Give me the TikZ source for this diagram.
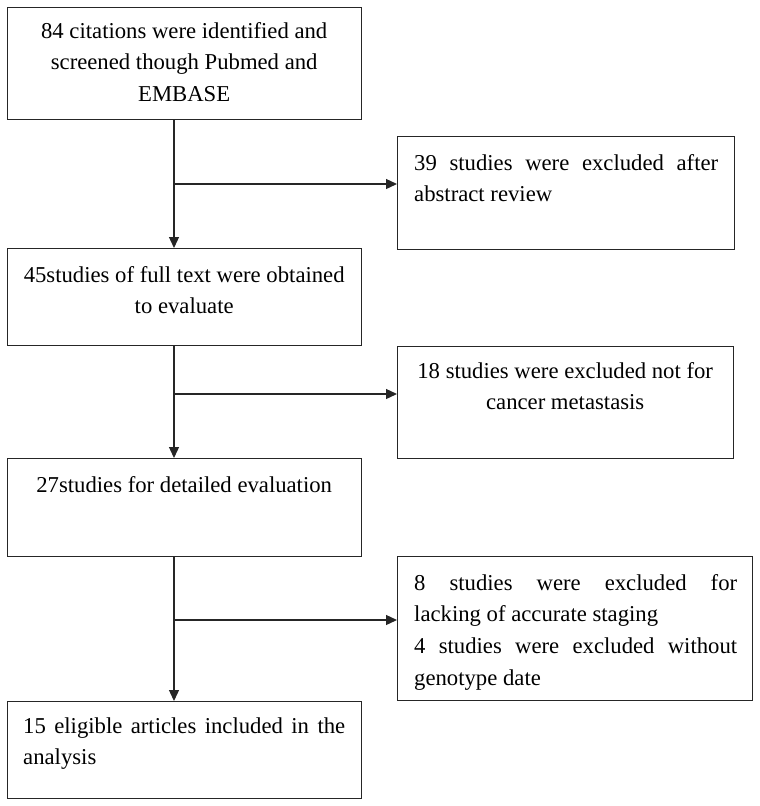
\documentclass[tikz,border=0pt]{standalone}
\usepackage{fontspec}
\setmainfont{Liberation Serif}
\usetikzlibrary{arrows.meta}
\begin{document}
\begin{tikzpicture}[x=1pt,y=-1pt,
  box/.style={draw=black!85, line width=1.3pt, inner sep=0pt, anchor=north west},
  txt/.style={inner sep=0pt, anchor=base west, font=\fontsize{22.7}{31.7}\selectfont},
  arr/.style={draw=black!85, line width=1.3pt, -{Triangle[length=11pt,width=10pt]}}]
\useasboundingbox (0,0) rectangle (760,806);
% boxes
\node[box, minimum width=354pt, minimum height=112pt] (b1) at (7,7) {};
\node[box, minimum width=337pt, minimum height=113pt] (r1) at (397,136) {};
\node[box, minimum width=354pt, minimum height=97pt]  (b2) at (7,248) {};
\node[box, minimum width=336pt, minimum height=112pt] (r2) at (397,346) {};
\node[box, minimum width=354pt, minimum height=98pt]  (b3) at (7,458) {};
\node[box, minimum width=355pt, minimum height=144pt] (r3) at (397,556) {};
\node[box, minimum width=354pt, minimum height=97pt]  (b4) at (7,701) {};
% texts
\node[txt] (t1) at (23,38) {\parbox[t]{322pt}{\centering 84 citations were identified and\\ screened though Pubmed and\\ EMBASE}};
\node[txt] (tr1) at (414,170) {\parbox[t]{304pt}{\makebox[304pt][s]{39 studies were excluded after}\\ abstract review}};
\node[txt] (t2) at (23,282) {\parbox[t]{322pt}{\centering 45studies of full text were obtained\\ to evaluate}};
\node[txt] (tr2) at (404,378) {\parbox[t]{322pt}{\centering 18 studies were excluded not for\\ cancer metastasis}};
\node[txt] (t3) at (23,492) {\parbox[t]{322pt}{\centering 27studies for detailed evaluation}};
\node[txt] (tr3) at (414,590) {\parbox[t]{323pt}{\makebox[323pt][s]{8 studies were excluded for}\\ lacking of accurate staging\\ \makebox[323pt][s]{4 studies were excluded without}\\ genotype date}};
\node[txt] (t4) at (23,733) {\parbox[t]{322pt}{\makebox[322pt][s]{15 eligible articles included in the}\\ analysis}};
% connectors
\coordinate (j1) at (174,184);
\coordinate (j2) at (174,394);
\coordinate (j3) at (174,620);
\draw[arr] (b1.south -| j1) -- (b2.north -| j1);
\draw[arr] (j1) -- (j1 -| r1.west);
\draw[arr] (b2.south -| j2) -- (b3.north -| j2);
\draw[arr] (j2) -- (j2 -| r2.west);
\draw[arr] (b3.south -| j3) -- (b4.north -| j3);
\draw[arr] (j3) -- (j3 -| r3.west);
\end{tikzpicture}
\end{document}
